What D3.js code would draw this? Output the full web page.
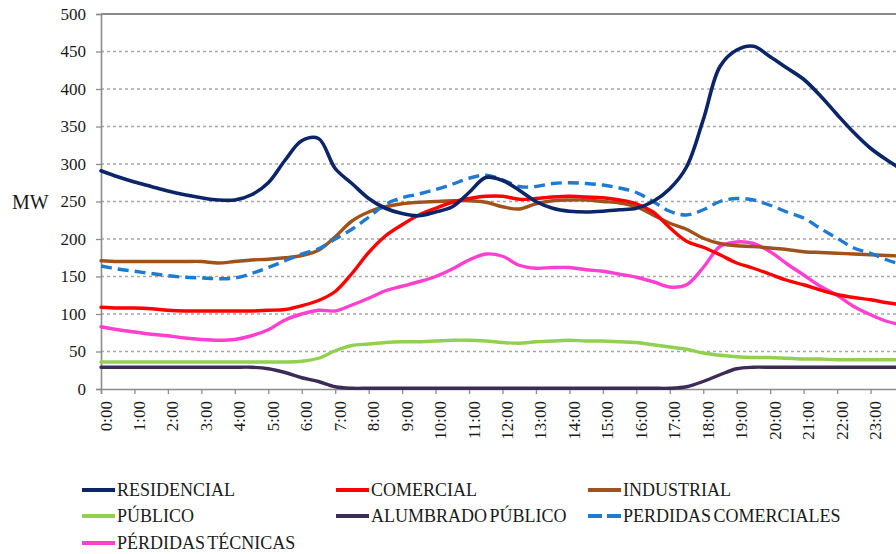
<!DOCTYPE html>
<html>
<head>
<meta charset="utf-8">
<script src="https://cdn.jsdelivr.net/npm/d3@7/dist/d3.min.js"></script>
<style>
  html, body { margin: 0; padding: 0; background: #fff; }
  svg { display: block; }
  svg text { font-family: "Liberation Serif", "DejaVu Serif", "Times New Roman", Times, serif !important; fill: #1a1a1a; }
</style>
</head>
<body>
<svg id="chart" width="896" height="554"></svg>
<script>
// ---------- DATA ----------
const hours = [0,0.5,1,1.5,2,2.5,3,3.5,4,4.5,5,5.5,6,6.5,7,7.5,8,8.5,9,9.5,10,10.5,11,11.5,12,12.5,13,13.5,14,14.5,15,15.5,16,16.5,17,17.5,18,18.5,19,19.5,20,20.5,21,21.5,22,22.5,23,23.5,24];
const hourLabels = ["0:00","1:00","2:00","3:00","4:00","5:00","6:00","7:00","8:00","9:00","10:00","11:00","12:00","13:00","14:00","15:00","16:00","17:00","18:00","19:00","20:00","21:00","22:00","23:00"];
const yTicks = [0,50,100,150,200,250,300,350,400,450,500];

const residencial = [291,283,276,270,264,259,255,252,252,259,275,305,331,334,294,274,254,241,234,231,236,243,262,282,278,265,250,241,237,236,237,239,241,250,267,296,359,430,452,457,443,428,413,391,366,342,321,305,291];
const comercial   = [109,108,108,107,105,104,104,104,104,104,105,106,111,118,130,154,182,204,219,232,241,249,254,257,257,253,254,256,257,256,255,252,247,236,215,197,189,179,168,161,153,145,139,132,126,122,119,115,112];
const industrial  = [171,170,170,170,170,170,170,168,170,172,173,175,178,185,203,224,236,243,247,249,250,251,251,249,243,240,247,251,252,252,250,248,243,232,221,213,201,194,191,190,188,186,183,182,181,180,179,178,177];
const publico     = [36,36,36,36,36,36,36,36,36,36,36,36,37,41,51,58,60,62,63,63,64,65,65,64,62,61,63,64,65,64,64,63,62,59,56,53,48,45,43,42,42,41,40,40,39,39,39,39,39];
const alumbrado   = [29,29,29,29,29,29,29,29,29,29,27,22,15,10,3,1,1,1,1,1,1,1,1,1,1,1,1,1,1,1,1,1,1,1,1,3,10,19,27,29,29,29,29,29,29,29,29,29,29];
const perdComerciales = [164,160,157,154,151,149,148,147,148,154,162,171,180,187,200,213,229,246,255,260,266,273,281,285,279,270,270,274,275,274,272,268,262,250,237,232,239,250,254,252,245,236,228,214,201,188,181,172,165];
const perdTecnicas = [83,79,76,73,71,68,66,65,66,71,79,92,100,105,104,112,121,131,137,143,150,160,172,180,177,165,161,162,162,159,157,153,149,143,136,139,162,190,196,194,183,167,152,137,125,110,99,90,85];

const seriesNames  = ["RESIDENCIAL","COMERCIAL","INDUSTRIAL","PÚBLICO","ALUMBRADO PÚBLICO","PERDIDAS COMERCIALES","PÉRDIDAS TÉCNICAS"];
const seriesValues = [residencial, comercial, industrial, publico, alumbrado, perdComerciales, perdTecnicas];
const seriesColors = ["#0b2568","#ff0000","#a1521b","#92d050","#3d2b56","#1f7ad0","#ff3fcf"];
const seriesDashed = [false,false,false,false,false,true,false];
const drawOrder = [4,3,6,2,1,5,0];

// ---------- LAYOUT ----------
const FONT = "'Liberation Serif', 'DejaVu Serif', 'Times New Roman', Times, serif";
const svg = d3.select("#chart");
const x = d3.scaleLinear().domain([0,24]).range([101, 904]);
const y = d3.scaleLinear().domain([0,500]).range([389, 14]);

// gridlines
svg.append("g").selectAll("line")
  .data(yTicks.filter(v => v > 0 && v < 500))
  .join("line")
  .attr("x1", 101).attr("x2", 896)
  .attr("y1", d => y(d)).attr("y2", d => y(d))
  .attr("stroke", "#a6a6a6").attr("stroke-width", 1.3)
  .attr("stroke-dasharray", "3,3");
// top line at 500
svg.append("line")
  .attr("x1", 101).attr("x2", 896).attr("y1", y(500)).attr("y2", y(500))
  .attr("stroke", "#8c8c8c").attr("stroke-width", 2);

// y axis
const yAxis = d3.axisLeft(y).tickValues(yTicks).tickSize(5).tickPadding(10).tickFormat(d3.format("d"));
const gy = svg.append("g").attr("transform", "translate(101,0)").call(yAxis)
  .attr("font-family", FONT);
gy.select(".domain").attr("stroke", "#8c8c8c").attr("stroke-width", 1.6);
gy.selectAll(".tick line").attr("stroke", "#8c8c8c").attr("stroke-width", 1.3);
gy.selectAll(".tick text").attr("font-size", 17).attr("font-family", FONT).attr("fill", "#1a1a1a");

// x axis
const xAxis = d3.axisBottom(x).tickValues(d3.range(0,24)).tickSize(5).tickFormat(d => hourLabels[d]);
const gx = svg.append("g").attr("transform", "translate(0,389)").call(xAxis)
  .attr("font-family", FONT);
gx.select(".domain").attr("stroke", "#8c8c8c").attr("stroke-width", 1.6);
gx.selectAll(".tick line").attr("stroke", "#8c8c8c").attr("stroke-width", 1.3);
gx.selectAll(".tick text")
  .attr("font-size", 17).attr("font-family", FONT).attr("fill", "#1a1a1a")
  .attr("text-anchor", "end")
  .attr("dy", null)
  .attr("y", 0)
  .attr("transform", "translate(10,12) rotate(-90)");

// MW label
svg.append("text").attr("x", 12).attr("y", y(250)).attr("dy", "0.35em")
  .attr("font-family", FONT).attr("font-size", 20).text("MW");

// lines
const line = d3.line().x((d,i) => x(hours[i])).y(d => y(d)).curve(d3.curveCatmullRom.alpha(0.5));
const gLines = svg.append("g");
drawOrder.forEach(k => {
  gLines.append("path")
    .datum(seriesValues[k])
    .attr("d", line)
    .attr("fill", "none")
    .attr("stroke", seriesColors[k])
    .attr("stroke-width", k === 0 ? 3.6 : 3.4)
    .attr("stroke-linejoin", "round")
    .attr("stroke-linecap", seriesDashed[k] ? "butt" : "round")
    .attr("stroke-dasharray", seriesDashed[k] ? "11,6" : null);
});

// legend
const colX = [82, 336, 588];
const rowY = [490, 516, 543];
const legend = svg.append("g");
seriesNames.forEach((name, i) => {
  const cx = colX[i % 3], cy = rowY[Math.floor(i / 3)];
  legend.append("line")
    .attr("x1", cx).attr("x2", cx + 33).attr("y1", cy).attr("y2", cy)
    .attr("stroke", seriesColors[i]).attr("stroke-width", 4)
    .attr("stroke-dasharray", seriesDashed[i] ? "14,5" : null);
  legend.append("text")
    .attr("x", cx + 35).attr("y", cy + 6)
    .attr("font-family", FONT)
    .attr("font-size", 18).attr("word-spacing", "-2px")
    .text(name);
});
</script>
</body>
</html>
